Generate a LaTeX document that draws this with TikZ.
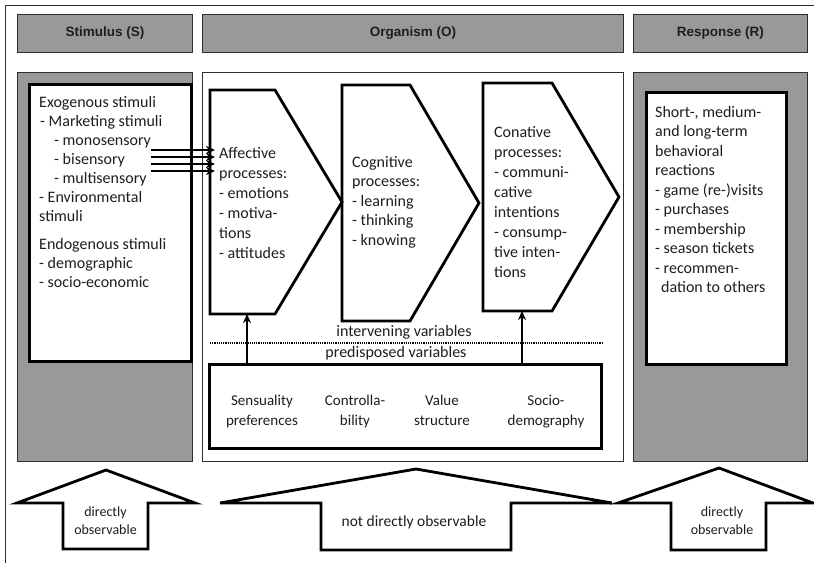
\documentclass[tikz,border=0pt]{standalone}
\usepackage{fontspec}
\setmainfont{Carlito}
\newfontfamily\headfont{Liberation Sans}
\usetikzlibrary{arrows.meta}

\definecolor{panelgray}{HTML}{999999}
\definecolor{ink}{HTML}{1E1E1E}
\definecolor{edgegray}{HTML}{2E2E2E}

\begin{document}
\begin{tikzpicture}[x=1pt,y=-1pt,
  every node/.style={inner sep=0pt, text=ink},
  hdr/.style={draw=edgegray, line width=0.9pt, fill=panelgray, anchor=north west,
    font=\headfont\bfseries\fontsize{13.5}{16}\selectfont},
  column/.style={draw=edgegray, line width=0.9pt, fill=panelgray, anchor=north west},
  orgcol/.style={draw=edgegray, line width=0.9pt, fill=white, anchor=north west},
  innerbox/.style={draw=black, line width=3pt, fill=white, anchor=north west},
  proc/.style={draw=black, line width=2.8pt, line join=miter},
  % multi-line blocks are placed by the baseline of their last line
  body/.style={align=left, anchor=base west},
  flow/.style={draw=black, line width=2.4pt, -{Stealth[length=9pt,width=8pt]}},
  bigarrow/.style={draw=black, line width=2.8pt, fill=white, line join=miter},
  dotline/.style={draw=black, line width=2.6pt, dash pattern=on 1.1pt off 1.1pt},
  varlabel/.style={align=center, anchor=base, font=\fontsize{15}{20}\selectfont},
  obs/.style={align=center, anchor=base, font=\fontsize{14}{18}\selectfont}
]
\useasboundingbox (0,0) rectangle (814,563);

% outer frame (top and left edges)
\draw[edgegray, line width=1pt] (5.5,563) -- (5.5,5.5) -- (814,5.5);

% column headers
\node[hdr, minimum width=175pt, minimum height=38pt] (hS) at (17,14) {Stimulus (S)};
\node[hdr, minimum width=421pt, minimum height=38pt] (hO) at (202,14) {Organism (O)};
\node[hdr, minimum width=174pt, minimum height=38pt] (hR) at (633,14) {Response (R)};

% column panels
\node[column, minimum width=175pt, minimum height=389pt] (colS) at (17,72) {};
\node[orgcol, minimum width=421pt, minimum height=389pt] (colO) at (202,72) {};
\node[column, minimum width=174pt, minimum height=389pt] (colR) at (633,72) {};

% stimulus box
\node[innerbox, minimum width=162pt, minimum height=277pt] (stimbox) at (28,83) {};
\node[body, font=\fontsize{16}{19}\selectfont] (stimtxt) at (39,287.5) {%
Exogenous stimuli\\
\hspace*{1pt}- Marketing stimuli\\
\hspace*{15pt}- monosensory\\
\hspace*{15pt}- bisensory\\
\hspace*{15pt}- multisensory\\
- Environmental\\
stimuli\\[9pt]
Endogenous stimuli\\
- demographic\\
- socio-economic};

% response box
\node[innerbox, minimum width=140pt, minimum height=272pt] (respbox) at (645,91) {};
\node[body, font=\fontsize{16}{19.5}\selectfont] (resptxt) at (655,292.5) {%
Short-, medium-\\
and long-term\\
behavioral\\
reactions\\
- game (re-)visits\\
- purchases\\
- membership\\
- season tickets\\
- recommen-\\
\hspace*{6pt}dation to others};

% processes inside the organism
\draw[proc] (210,90) coordinate (affNW) -- (275,90) -- (342,202) coordinate (affTip)
  -- (275,314) -- (210,314) coordinate (affSW) -- cycle;
\draw[proc] (342,85) coordinate (cogNW) -- (410,85) -- (479,203) coordinate (cogTip)
  -- (410,321) -- (342,321) coordinate (cogSW) -- cycle;
\draw[proc] (483,83) coordinate (conNW) -- (552,83) -- (619,197) coordinate (conTip)
  -- (552,311) -- (483,311) coordinate (conSW) -- cycle;

\node[body, font=\fontsize{16}{20}\selectfont] (afftxt) at (219,258.6) {%
Affective\\ processes:\\ - emotions\\ - motiva-\\ tions\\ - attitudes};
\node[body, font=\fontsize{16}{19.6}\selectfont] (cogtxt) at (352,245.4) {%
Cognitive\\ processes:\\ - learning\\ - thinking\\ - knowing};
\node[body, font=\fontsize{16}{20}\selectfont] (contxt) at (494,277) {%
Conative\\ processes:\\ - communi-\\ cative\\ intentions\\ - consump-\\ tive inten-\\ tions};

% marketing stimuli feeding the affective processes
\foreach \yy in {150,157,164,171}
  \draw[flow] ([xshift=-42pt]stimbox.east |- 0,\yy) -- ([xshift=5pt]affNW |- 0,\yy);

% variables
\node[anchor=center, font=\fontsize{16}{19}\selectfont] (interv) at (404,332) {intervening variables};
\draw[dotline] (210,343) -- (603,343);
\node[anchor=center, font=\fontsize{16}{19}\selectfont] (predisp) at (396,353) {predisposed variables};

\node[innerbox, minimum width=392pt, minimum height=84pt] (pre) at (208,363) {};
\node[varlabel] (v1) at (262,425) {Sensuality\\preferences};
\node[varlabel] (v2) at (355,425) {Controlla-\\bility};
\node[varlabel] (v3) at (442,425) {Value\\structure};
\node[varlabel] (v4) at (546,425) {Socio-\\demography};

\coordinate (affB) at (247,314);
\coordinate (conB) at (522,311);
\draw[flow] (pre.north -| affB) -- (affB);
\draw[flow] (pre.north -| conB) -- (conB);

% observability arrows
\draw[bigarrow] (63,549) -- (63,503) -- (17,503) -- (106,470) -- (195,503)
  -- (148,503) -- (148,549) -- cycle;
\node[obs] (obsS) at (105.5,534.5) {directly\\observable};

\draw[bigarrow] (321,550) -- (321,503) -- (220,503) -- (416,469) -- (612,503)
  -- (511,503) -- (511,550) -- cycle;
\node[anchor=center, font=\fontsize{15.5}{18}\selectfont] (obsO) at (414,522) {not directly observable};

\draw[bigarrow] (671,550) -- (671,503) -- (618,503) -- (719,468) -- (813,503)
  -- (766,503) -- (766,550) -- cycle;
\node[obs] (obsR) at (722,534) {directly\\observable};
\end{tikzpicture}
\end{document}
